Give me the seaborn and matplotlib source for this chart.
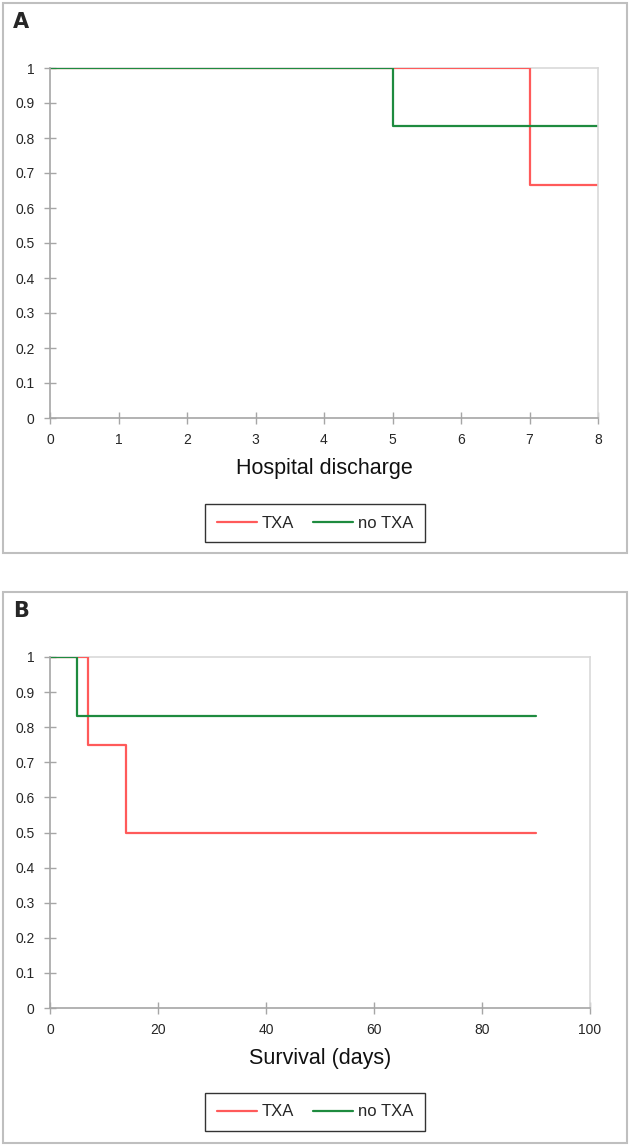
import matplotlib
matplotlib.use("Agg")
import matplotlib.pyplot as plt
import seaborn as sns
import pandas as pd
from matplotlib.patches import Rectangle

# panel A - hospital discharge
a_txa_t = [0, 7, 8]
a_txa_s = [1, 0.667, 0.667]
a_no_t = [0, 5, 8]
a_no_s = [1, 0.833, 0.833]

# panel B - survival (days)
b_txa_t = [0, 7, 14, 90]
b_txa_s = [1, 0.75, 0.5, 0.5]
b_no_t = [0, 5, 90]
b_no_s = [1, 0.833, 0.833]

groups = ["TXA", "no TXA"]
colors = {"TXA": "#FF5A5A", "no TXA": "#1E8B3F"}
y_ticks = [0, 0.1, 0.2, 0.3, 0.4, 0.5, 0.6, 0.7, 0.8, 0.9, 1]

sns.set_style("white")
plt.rcParams["font.family"] = ["Liberation Sans", "DejaVu Sans"]

W, H = 630, 1147
fig = plt.figure(figsize=(W / 100, H / 100), dpi=100)


def make_df(t1, s1, t2, s2):
    return pd.DataFrame({
        "time": t1 + t2,
        "surv": s1 + s2,
        "group": [groups[0]] * len(t1) + [groups[1]] * len(t2),
    })


def frac(x0, y0, x1, y1):
    # pixel box -> figure fraction
    return [x0 / W, 1 - y1 / H, (x1 - x0) / W, (y1 - y0) / H]


def panel(box, axbox, df, xmax, xticks, xlabel, letter, leg_y):
    fig.patches.append(Rectangle(box[:2], box[2], box[3], transform=fig.transFigure,
                                 fill=False, edgecolor="#BFBFBF", lw=1.5))
    ax = fig.add_axes(axbox)
    sns.lineplot(data=df, x="time", y="surv", hue="group", palette=colors,
                 drawstyle="steps-post", estimator=None, lw=1.6, ax=ax, legend=False)
    ax.set_xlim(0, xmax)
    ax.set_ylim(0, 1)
    ax.set_xticks(xticks)
    ax.set_yticks(y_ticks)
    ax.set_yticklabels([f"{v:g}" for v in y_ticks])
    for s in ["top", "right"]:
        ax.spines[s].set_color("#D9D9D9")
        ax.spines[s].set_linewidth(1.2)
    for s in ["left", "bottom"]:
        ax.spines[s].set_color("#A6A6A6")
        ax.spines[s].set_linewidth(1.2)
    ax.spines["top"].set_zorder(0)
    ax.tick_params(bottom=True, left=True, direction="inout", length=8, width=1,
                   color="#A6A6A6", labelsize=10, labelcolor="#262626", pad=7)
    ax.set_xlabel(xlabel, fontsize=15.5, labelpad=8, color="#111111")
    ax.set_ylabel("")
    fig.text(box[0] + 10 / W, box[1] + box[3] - 25 / H, letter, fontsize=15,
             fontweight="bold", family="DejaVu Sans", va="baseline")
    handles = [plt.Line2D([], [], color=colors[g], lw=1.6) for g in groups]
    leg = fig.legend(handles, groups, loc="center", bbox_to_anchor=(0.5, leg_y),
                     ncol=2, fontsize=12, frameon=True, fancybox=False,
                     edgecolor="black", handlelength=2.4, columnspacing=1.1,
                     borderpad=0.7, handletextpad=0.3)
    leg.get_frame().set_linewidth(1.0)
    return ax


panel(frac(3, 3, 627, 553), frac(50, 68, 598, 418),
      make_df(a_txa_t, a_txa_s, a_no_t, a_no_s), 8, list(range(0, 9)),
      "Hospital discharge", "A", 1 - 523 / H)

panel(frac(3, 592, 627, 1143), frac(50, 657, 590, 1008),
      make_df(b_txa_t, b_txa_s, b_no_t, b_no_s), 100, [0, 20, 40, 60, 80, 100],
      "Survival (days)", "B", 1 - 1112 / H)

fig.savefig("out.png", dpi=100, facecolor="white")
